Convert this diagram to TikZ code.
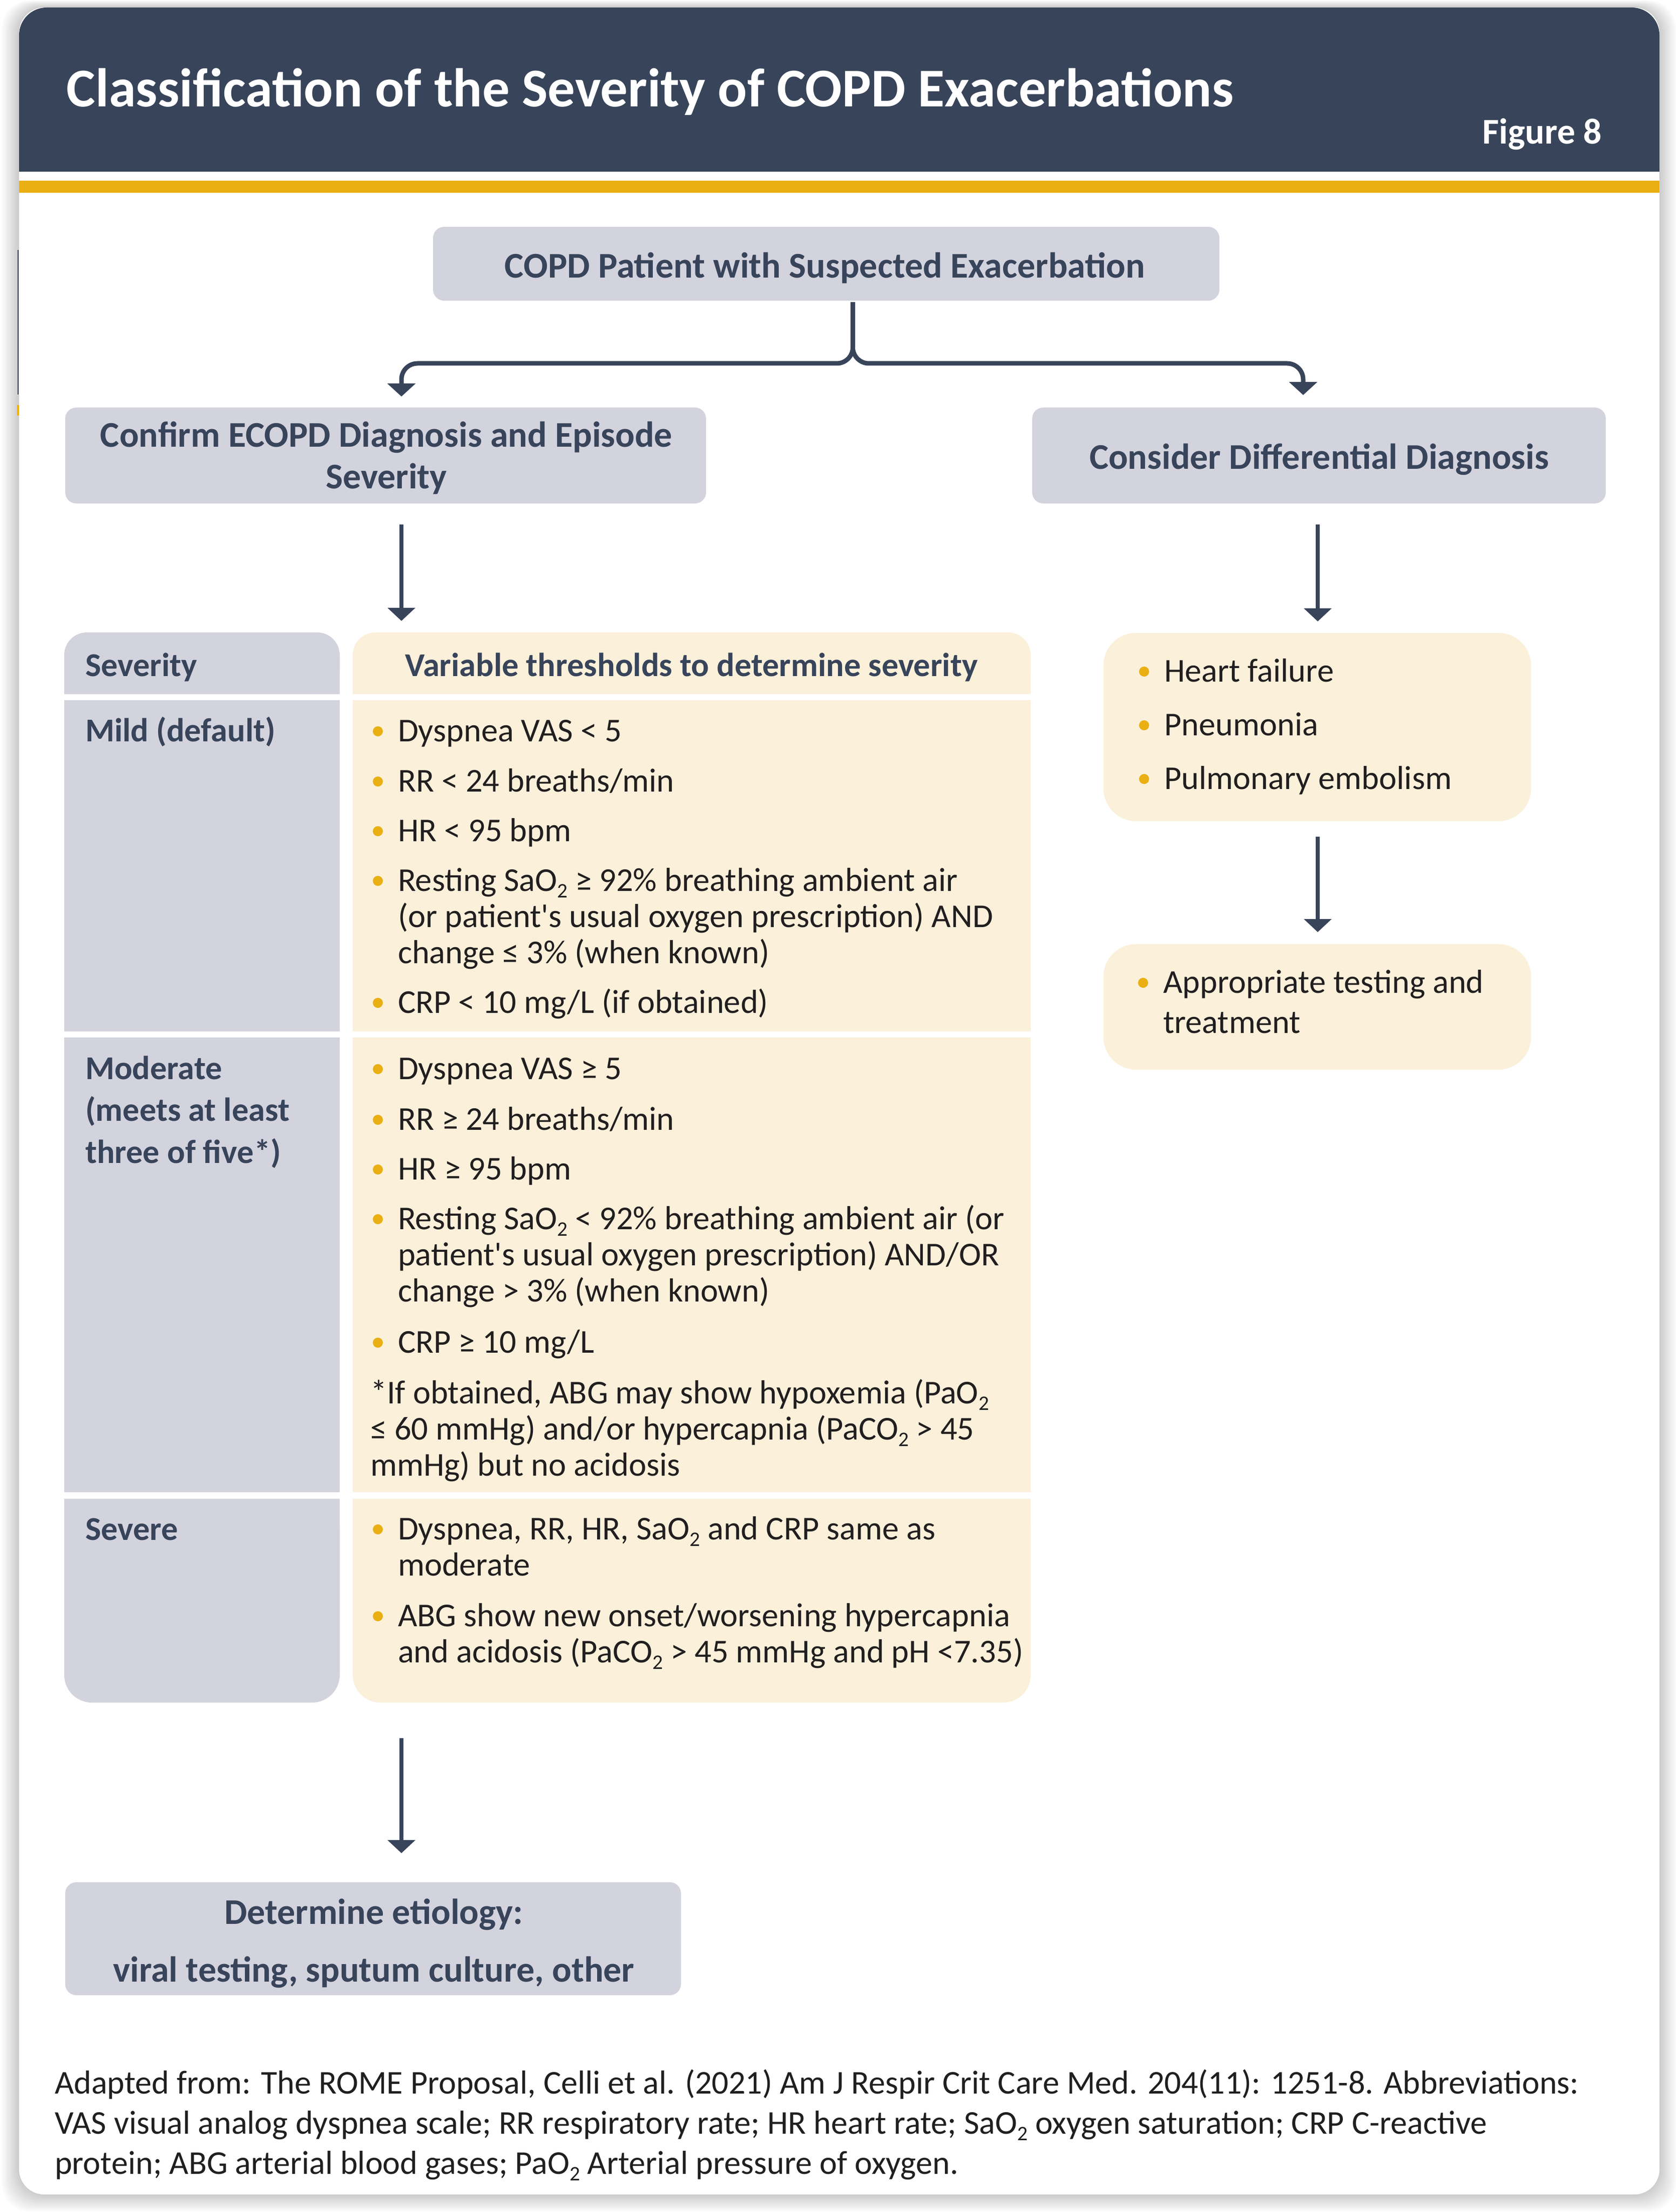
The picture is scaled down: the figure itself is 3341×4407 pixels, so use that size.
\documentclass[tikz,border=0pt]{standalone}
\usepackage{fontspec}
\setmainfont{Carlito}
\usetikzlibrary{arrows.meta,fit,calc}
\definecolor{navy}{RGB}{56,68,90}
\definecolor{gold}{RGB}{233,175,19}
\definecolor{boxgray}{RGB}{211,211,222}
\definecolor{cream}{RGB}{251,240,218}
\definecolor{ink}{RGB}{33,30,31}
\newcommand\fs[2]{\fontsize{#1}{#2}\selectfont}
\newcommand\Lft[1]{\vtop{\halign{##\hfil\cr#1\crcr}}}
\newcommand\Ctr[1]{\vtop{\halign{\hfil##\hfil\cr#1\crcr}}}
\newcommand\subtwo{\raisebox{-0.2em}{\fontsize{0.62em}{0.62em}\selectfont 2}}
\newcommand\bitem[4]{%
  \fill[gold] ({#2-40},{#3-20}) circle[radius=2.5pt];
  \node[body, anchor=base west] (#1) at (#2,#3) {#4};}
\begin{document}
\begin{tikzpicture}[x=0.25pt,y=-0.25pt,
  box/.style={inner sep=0pt, outer sep=0pt, rounded corners=#1},
  graybox/.style={box=5.5pt, fill=boxgray},
  cellgray/.style={box=#1, fill=boxgray},
  cellcream/.style={box=#1, fill=cream},
  head/.style={inner sep=0pt, outer sep=0pt, text=navy, font={\bfseries\fs{18pt}{20.75pt}}},
  etiofont/.style={inner sep=0pt, outer sep=0pt, text=navy, font={\bfseries\fs{18pt}{28.75pt}}},
  lab/.style={inner sep=0pt, outer sep=0pt, text=navy, font={\bfseries\fs{16.6pt}{20.9pt}}},
  body/.style={inner sep=0pt, outer sep=0pt, text=ink, font={\fs{16.6pt}{18pt}}},
  foot/.style={inner sep=0pt, outer sep=0pt, text=ink, font={\fs{16.55pt}{20pt}}},
  thickarr/.style={draw=navy, line width=2.25pt, rounded corners=8pt, -{Triangle[width=13.75pt,length=6.5pt]}},
  thinarr/.style={draw=navy, line width=1.8pt, -{Triangle[width=13.5pt,length=6.5pt]}}
]
\useasboundingbox (0,0) rectangle (3341,4407);
\fill[white] (0,0) rectangle (3341,4407);
% card shadow
\foreach \i in {1,...,10}{
  \fill[black, opacity=0.018, rounded corners=14pt] ({38-3.4*\i},{15-1.4*\i}) rectangle ({3307+3.3*\i},{4372+3.4*\i});
}
\draw[navy, line width=0.6pt] (36,498) -- (36,786);
\draw[gold, line width=0.8pt] (36,807) -- (36,828);
% card and header
\fill[white, rounded corners=12.5pt] (38,15) rectangle (3307,4372);
\fill[navy, rounded corners=13.75pt] (38,15) rectangle (3307,410);
\fill[white] (38,342) rectangle (3307,410);
\fill[gold] (38,360) rectangle (3307,384);
\node[anchor=base west, inner sep=0pt, text=white, font={\bfseries\fs{27.2pt}{33pt}}] (title) at (132,213) {Classification of the Severity of COPD Exacerbations};
\node[anchor=base east, inner sep=0pt, text=white, font={\bfseries\fs{18pt}{21pt}}] (fig) at (3193,287) {Figure 8};

% flow boxes
\node[graybox, fit={(863,452)(2430,599)}] (top) {};
\node[graybox, fit={(130,812)(1407,1003)}] (confirm) {};
\node[graybox, fit={(2057,812)(3200,1003)}] (consider) {};
\node[cellcream=16.25pt, fit={(2199,1261)(3051,1636)}] (diff) {};
\node[cellcream=16.25pt, fit={(2199,1881)(3051,2131)}] (appr) {};
\node[graybox, fit={(130,3750)(1357,3975)}] (etio) {};

% table
\node[cellgray=11.25pt, fit={(128,1260)(677,1383)}] (sevH) {};
\node[cellcream=11.25pt, fit={(703,1260)(2054,1383)}] (thrH) {};
\fill[boxgray] (128,1320) rectangle (677,1383);
\fill[cream] (703,1320) rectangle (2054,1383);
\node[cellgray=0pt, fit={(128,1395)(677,2055)}] (mildL) {};
\node[cellcream=0pt, fit={(703,1395)(2054,2055)}] (mildR) {};
\node[cellgray=0pt, fit={(128,2067)(677,2973)}] (modL) {};
\node[cellcream=0pt, fit={(703,2067)(2054,2973)}] (modR) {};
\node[cellgray=13.75pt, fit={(128,2986)(677,3392)}] (sevL) {};
\node[cellcream=13.75pt, fit={(703,2986)(2054,3392)}] (sevR) {};
\fill[boxgray] (128,2986) rectangle (677,3320);
\fill[cream] (703,2986) rectangle (2054,3320);

% heading texts
\node[head, anchor=base] (topt) at (1644,554) {COPD Patient with Suspected Exacerbation};
\node[head, anchor=base] (conft) at (770,891) {\Ctr{Confirm ECOPD Diagnosis and Episode\cr Severity}};
\node[head, anchor=base] (const) at (2629,934) {Consider Differential Diagnosis};
\node[etiofont, anchor=base] (etiot) at (745,3833) {\Ctr{Determine etiology:\cr viral testing, sputum culture, other}};

% table labels
\node[lab, anchor=base west] (sevht) at (170,1347) {Severity};
\node[lab, anchor=base] (thrht) at (1378,1347) {Variable thresholds to determine severity};
\node[lab, anchor=base west] (mildt) at (170,1477) {Mild (default)};
\node[lab, anchor=base west] (modt) at (170,2150) {\Lft{Moderate\cr (meets at least\cr three of five*)}};
\node[lab, anchor=base west] (sevt) at (170,3068) {Severe};

% mild
\bitem{m1}{793}{1477}{Dyspnea VAS < 5}
\bitem{m2}{793}{1577}{RR < 24 breaths/min}
\bitem{m3}{793}{1676}{HR < 95 bpm}
\bitem{m4}{793}{1775}{\Lft{Resting SaO\subtwo{} ≥ 92\% breathing ambient air\cr (or patient\textquotesingle s usual oxygen prescription) AND\cr change ≤ 3\% (when known)}}
\bitem{m5}{793}{2018}{CRP < 10 mg/L (if obtained)}
% moderate
\bitem{d1}{793}{2150}{Dyspnea VAS ≥ 5}
\bitem{d2}{793}{2251}{RR ≥ 24 breaths/min}
\bitem{d3}{793}{2350}{HR ≥ 95 bpm}
\bitem{d4}{793}{2449}{\Lft{Resting SaO\subtwo{} < 92\% breathing ambient air (or\cr patient\textquotesingle s usual oxygen prescription) AND/OR\cr change > 3\% (when known)}}
\bitem{d5}{793}{2695}{CRP ≥ 10 mg/L}
\node[body, anchor=base west] (dnote) at (738,2796) {\Lft{*If obtained, ABG may show hypoxemia (PaO\subtwo\cr ≤ 60 mmHg) and/or hypercapnia (PaCO\subtwo{} > 45\cr mmHg) but no acidosis}};
% severe
\bitem{s1}{793}{3067}{\Lft{Dyspnea, RR, HR, SaO\subtwo{} and CRP same as\cr moderate}}
\bitem{s2}{793}{3240}{\Lft{ABG show new onset/worsening hypercapnia\cr and acidosis (PaCO\subtwo{} > 45 mmHg and pH <7.35)}}
% differential
\bitem{h1}{2320}{1358}{Heart failure}
\bitem{h2}{2320}{1465}{Pneumonia}
\bitem{h3}{2320}{1572}{Pulmonary embolism}
\bitem{a1}{2318}{1978}{\fs{16.6pt}{20pt}\Lft{Appropriate testing and\cr treatment}}

% footer
\node[foot, anchor=base west] (foot) at (109,4171) {\Lft{Adapted from: The ROME Proposal, Celli et al. (2021) Am J Respir Crit Care Med. 204(11): 1251-8. Abbreviations:\cr VAS visual analog dyspnea scale; RR respiratory rate; HR heart rate; SaO\subtwo{} oxygen saturation; CRP C-reactive\cr protein; ABG arterial blood gases; PaO\subtwo{} Arterial pressure of oxygen.}};

% connectors
\coordinate (stem) at ($(top.south)+(53,3)$);
\coordinate (jy) at (0,724);
\coordinate (tipL) at ($(confirm.north)+(31.5,-22)$);
\coordinate (tipR) at ($(consider.north)+(-31.5,-25)$);
\draw[thickarr] (stem) -- (stem |- jy) -- (tipL |- jy) -- (tipL);
\draw[thickarr] (stem) -- (stem |- jy) -- (tipR |- jy) -- (tipR);
\coordinate (xL) at (800,0);
\coordinate (xR) at (2626,0);
\draw[thinarr] ($(confirm.south -| xL)+(0,42)$) -- ($(thrH.north -| xL)+(0,-23)$);
\draw[thinarr] ($(consider.south -| xR)+(0,42)$) -- ($(diff.north -| xR)+(0,-23)$);
\draw[thinarr] ($(diff.south -| xR)+(0,31)$) -- ($(appr.north -| xR)+(0,-24)$);
\draw[thinarr] ($(sevR.south -| xL)+(0,71)$) -- ($(etio.north -| xL)+(0,-58)$);
\end{tikzpicture}
\end{document}
